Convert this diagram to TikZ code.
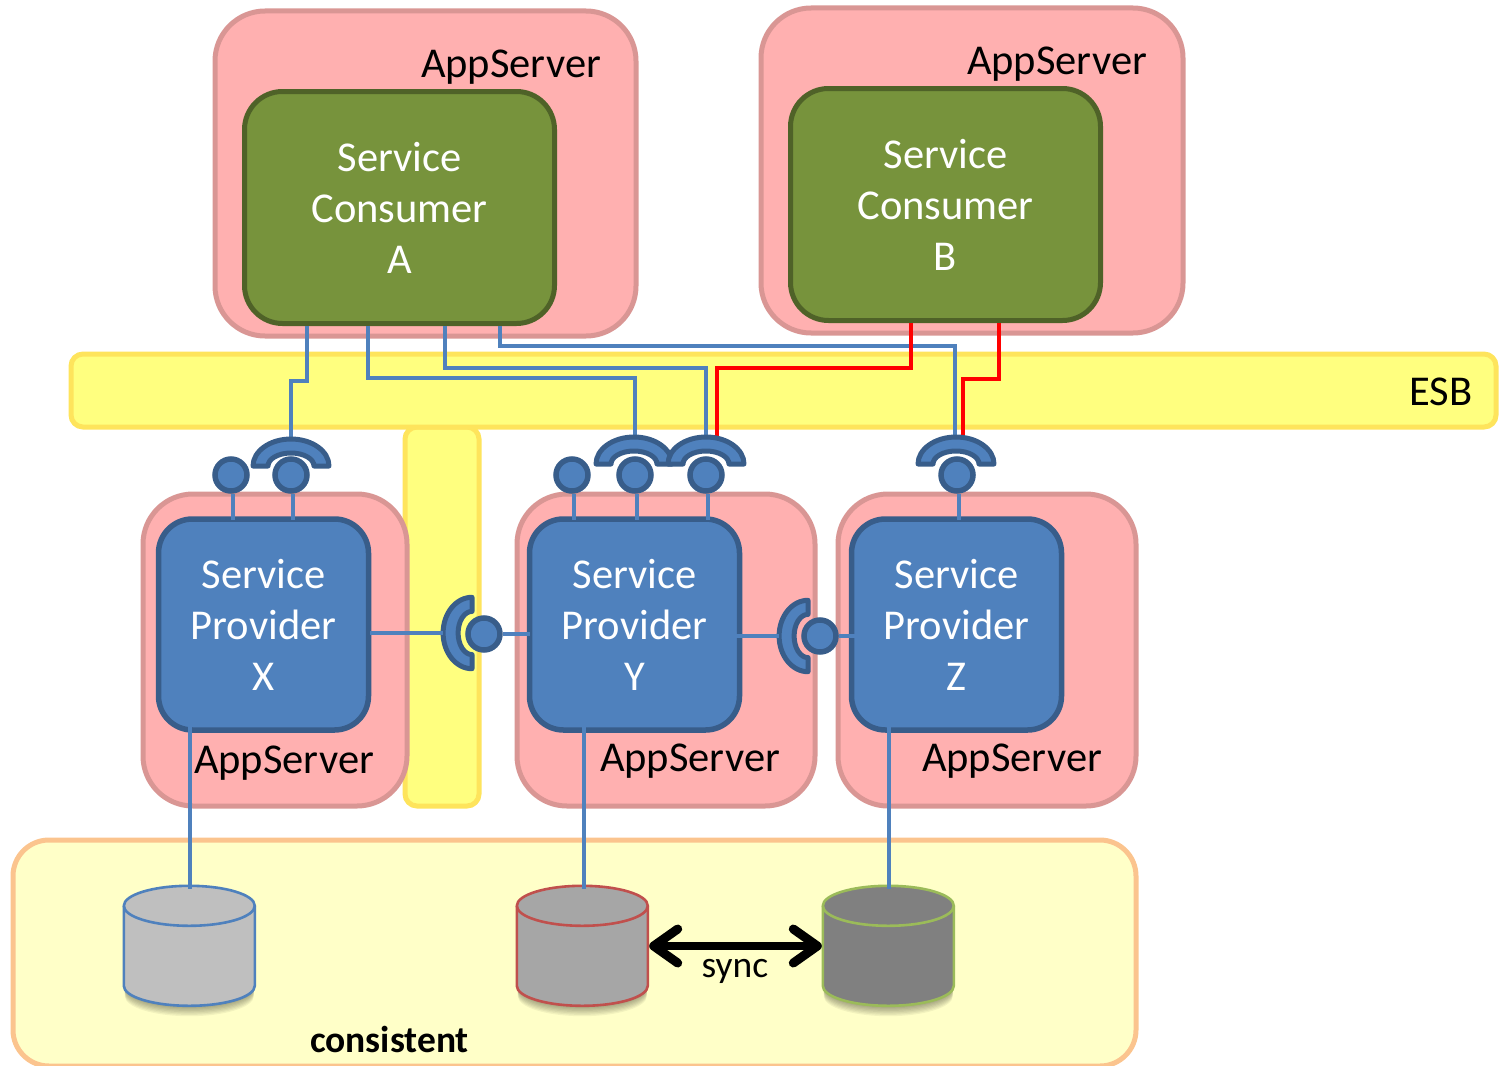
\documentclass[tikz,border=0pt]{standalone}
\usepackage{fontspec}
\setmainfont{Carlito}
\usetikzlibrary{arrows.meta}
\definecolor{pinkfill}{HTML}{FFB0B0}
\definecolor{pinkline}{HTML}{D99694}
\definecolor{greenfill}{HTML}{77933C}
\definecolor{greenline}{HTML}{4F6228}
\definecolor{bluefill}{HTML}{4F81BD}
\definecolor{blueline}{HTML}{385D8A}
\definecolor{esbfill}{HTML}{FFFF7F}
\definecolor{esbline}{HTML}{FEE45C}
\definecolor{lowfill}{HTML}{FFFFC8}
\definecolor{lowline}{HTML}{FBC48E}
\definecolor{dbgreen}{HTML}{9BBB59}
\definecolor{dbred}{HTML}{C0504D}
\tikzset{
  x=1pt,y=1pt,
  lbl/.style={font=\fontsize{42.5}{51}\selectfont,inner sep=0pt,align=center},
  appbox/.style={draw=pinkline,fill=pinkfill,line width=5pt,rounded corners=50pt,inner sep=0pt},
  consumerbox/.style={draw=greenline,fill=greenfill,line width=5pt,rounded corners=38pt,inner sep=0pt,
     minimum width=310pt,minimum height=232pt,text=white,font=\fontsize{42.5}{51}\selectfont,align=center},
  providerbox/.style={draw=blueline,fill=bluefill,line width=5.5pt,rounded corners=34pt,inner sep=0pt,
     minimum width=210pt,minimum height=211pt,text=white,font=\fontsize{42.5}{51}\selectfont,align=center},
  busbox/.style={draw=esbline,fill=esbfill,line width=5pt,rounded corners=12pt,inner sep=0pt},
  wire/.style={draw=bluefill,line width=4pt},
  redwire/.style={draw=red,line width=4.2pt},
  ball/.style={circle,draw=blueline,fill=bluefill,line width=5.5pt,minimum size=32pt,inner sep=0pt},
  dbshape/.style={minimum width=131pt,minimum height=120pt,inner sep=0pt},
  socket/.pic={
    \draw[draw=blueline,fill=bluefill,line width=5pt,line join=round]
      (-38,0) arc[start angle=180,end angle=0,x radius=38,y radius=27]
      -- (23,0) arc[start angle=0,end angle=180,x radius=23,y radius=13] -- cycle;
    \coordinate (-top) at (0,27);
  }
}
\newcommand{\cyl}[4]{%
  \foreach \d in {1,...,8}{
    \fill[black,opacity=.05] ([yshift=-\d*1.3pt]#1.north west) ++(1,-20) -- ++(0,-80)
      arc[start angle=180,end angle=360,x radius=64.5,y radius=20] -- ++(0,80)
      arc[start angle=0,end angle=180,x radius=64.5,y radius=20] -- cycle;
  }
  \draw[draw=#3,fill=#2,line width=2.6pt] ([yshift=-20pt]#1.north west) -- ++(0,-80)
      arc[start angle=180,end angle=360,x radius=65.5,y radius=20] -- ++(0,80)
      arc[start angle=0,end angle=180,x radius=65.5,y radius=20] -- cycle;
  \draw[draw=#3,line width=2.6pt] ([yshift=-20pt]#1.north west)
      arc[start angle=180,end angle=360,x radius=65.5,y radius=20];
}
\begin{document}
\begin{tikzpicture}
\useasboundingbox (0,0) rectangle (1501,-1065);
% bottom band
\node[draw=lowline,fill=lowfill,line width=5pt,rounded corners=36pt,inner sep=0pt,
      minimum width=1123pt,minimum height=226pt] (low) at (574.5,-953) {};
% vertical bus (behind)
\node[busbox,minimum width=74pt,minimum height=379pt] (vbus) at (442,-616.5) {};
% app servers
\node[appbox,minimum width=421pt,minimum height=325pt] (asa) at (425.5,-173.5) {};
\node[appbox,minimum width=422pt,minimum height=325pt] (asb) at (972,-170.5) {};
\node[appbox,minimum width=264pt,minimum height=312pt] (asx) at (275,-650) {};
\node[appbox,minimum width=298pt,minimum height=312pt] (asy) at (666,-650) {};
\node[appbox,minimum width=298pt,minimum height=312pt] (asz) at (987,-650) {};
% ESB
\node[busbox,minimum width=1425pt,minimum height=73pt] (esb) at (783.5,-390.5) {};
% consumers
\node[consumerbox] (ca) at (399.5,-207.5) {Service\\Consumer\\A};
\node[consumerbox] (cb) at (945.5,-204.5) {Service\\Consumer\\B};
% providers
\node[providerbox] (px) at (263.5,-624.5) {Service\\Provider\\X};
\node[providerbox] (py) at (634.5,-624.5) {Service\\Provider\\Y};
\node[providerbox] (pz) at (956.5,-624.5) {Service\\Provider\\Z};
% labels
\node[lbl] (la) at (511,-67) {AppServer};
\node[lbl] (lb) at (1057,-64) {AppServer};
\node[lbl] (lx) at (284,-763) {AppServer};
\node[lbl] (ly) at (690,-761.5) {AppServer};
\node[lbl] (lz) at (1012,-761.5) {AppServer};
\node[lbl] (lesb) at (1441,-392) {ESB};
\node[font=\fontsize{37.5}{44}\selectfont,inner sep=0pt] (lsync) at (735,-971) {sync};
\node[font=\fontsize{37.5}{44}\selectfont\bfseries,inner sep=0pt] (lcons) at (389.5,-1039) {consistent};
% databases
\node[dbshape] (db1) at (189.5,-946) {};
\node[dbshape] (db2) at (582.5,-946) {};
\node[dbshape] (db3) at (888.5,-946) {};
\cyl{db1}{black!25}{bluefill}{}
\cyl{db2}{black!35}{dbred}{}
\cyl{db3}{black!50}{dbgreen}{}
% wires (drawn below sockets)
\coordinate (n1) at (291,-466);
\coordinate (n2) at (634,-464);
\coordinate (n3) at (706,-464);
\coordinate (n4) at (956,-464);
\coordinate (n5) at (472,-633);
\coordinate (n6) at (808,-636);
\coordinate (t1) at (291,-442);
\coordinate (t2) at (634.5,-440);
\coordinate (t3) at (706,-440);
\coordinate (t4) at (955,-440);
\coordinate (t5) at (717,-440);
\coordinate (t6) at (963,-440);
\draw[wire] ([xshift=-92.5pt]ca.south) -- ++(0,-55) -| (t1);
\draw[wire] ([xshift=-31.5pt]ca.south) -- ++(0,-52) -| (t2);
\draw[wire] ([xshift=45.5pt]ca.south) -- ++(0,-42) -| (t3);
\draw[wire] ([xshift=100.5pt]ca.south) -- ++(0,-20) -| (t4);
\draw[redwire] ([xshift=-34.5pt]cb.south) -- ++(0,-45) -| (t5);
\draw[redwire] ([xshift=53.5pt]cb.south) -- ++(0,-56) -| (t6);
% sockets and balls
\pic (s1) at (n1) {socket};
\pic (s2) at (n2) {socket};
\pic (s4) at (n4) {socket};
\pic (s3) at (n3) {socket};
\pic[rotate=90,xscale=.94,yscale=1.07] (s5) at (n5) {socket};
\pic[rotate=90,xscale=.94,yscale=1.07] (s6) at (n6) {socket};
\node[ball] (bx1) at (231,-475) {};
\node[ball] (bx2) at (291,-475) {};
\node[ball] (by1) at (572,-475) {};
\node[ball] (by2) at (635,-475) {};
\node[ball] (by3) at (706,-475) {};
\node[ball] (bz1) at (957,-475) {};
\node[ball] (bx3) at (484,-634) {};
\node[ball] (bz2) at (820,-636) {};
% stems
\draw[wire] ([xshift=1.5pt]bx1.south) -- ([xshift=1.5pt,yshift=-4pt]bx1.south |- px.north);
\draw[wire] ([xshift=1.5pt]bx2.south) -- ([xshift=1.5pt,yshift=-4pt]bx2.south |- px.north);
\draw[wire] ([xshift=1.5pt]by1.south) -- ([xshift=1.5pt,yshift=-4pt]by1.south |- py.north);
\draw[wire] ([xshift=1.5pt]by2.south) -- ([xshift=1.5pt,yshift=-4pt]by2.south |- py.north);
\draw[wire] ([xshift=1.5pt]by3.south) -- ([xshift=1.5pt,yshift=-4pt]by3.south |- py.north);
\draw[wire] ([xshift=1.5pt]bz1.south) -- ([xshift=1.5pt,yshift=-4pt]bz1.south |- pz.north);
% horizontal links
\draw[wire] ([xshift=-1pt]n5 -| px.east) -- (s5-top);
\draw[wire] (bx3.east) -- ([xshift=3pt]bx3.east -| py.west);
\draw[wire] ([xshift=-32pt]n6 -| py.east) -- (s6-top);
\draw[wire] (bz2.east) -- ([xshift=20pt]bz2.east -| pz.west);
% database links
\draw[wire] ([yshift=28pt]px.south -| db1.north) -- ([yshift=-3pt]db1.north);
\draw[wire] ([yshift=28pt,xshift=1.5pt]py.south -| db2.north) -- ([xshift=1.5pt,yshift=-3pt]db2.north);
\draw[wire] ([yshift=28pt]pz.south -| db3.north) -- ([yshift=-3pt]db3.north);
% sync
\draw[line width=8pt,{Straight Barb[round,line width=9pt,length=24pt,width=34pt]}-{Straight Barb[round,line width=9pt,length=24pt,width=34pt]}]
  ([xshift=1pt]db2.east) -- ([xshift=-1pt]db3.west);
\end{tikzpicture}
\end{document}
